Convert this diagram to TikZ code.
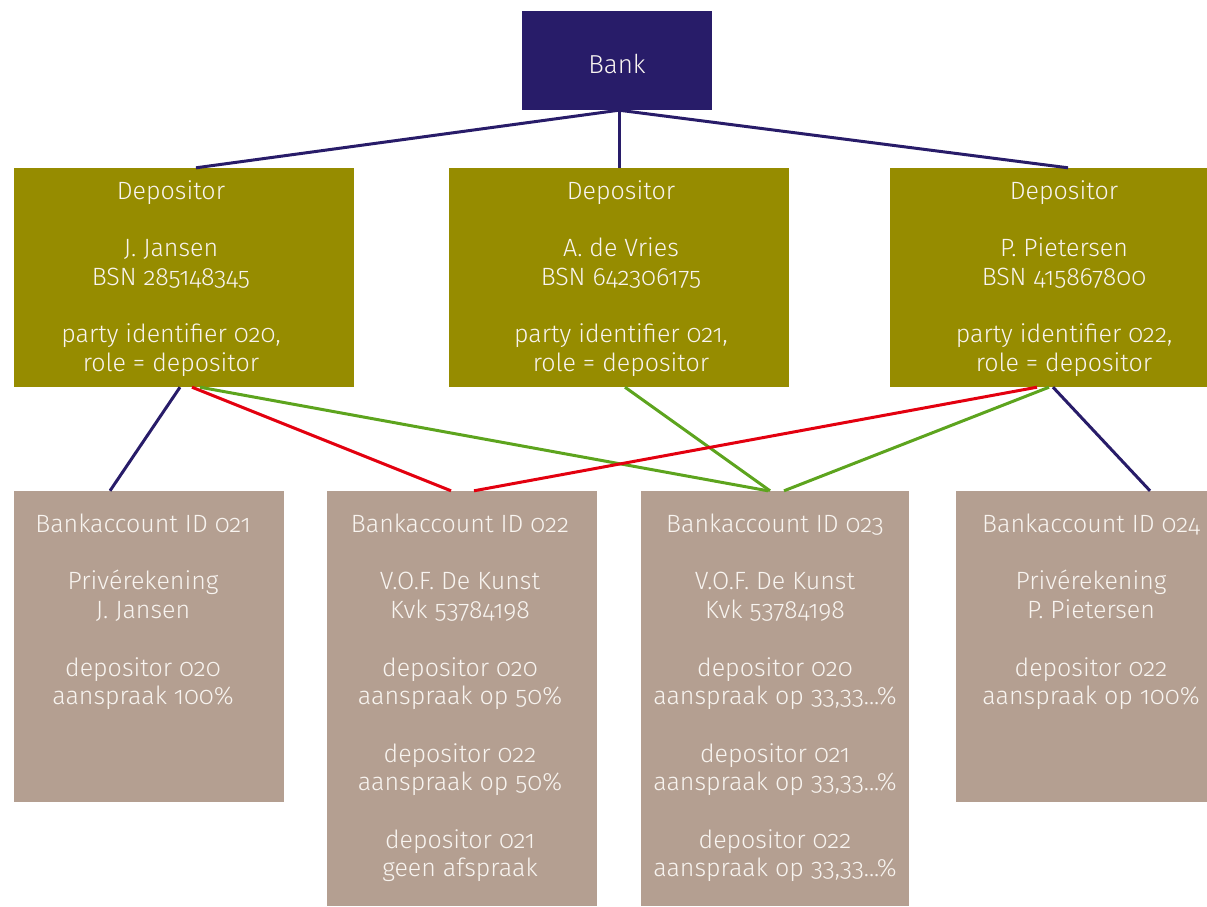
\documentclass[tikz,border=0pt]{standalone}
\usepackage{fontspec}
\setmainfont{Fira Sans}[UprightFont=* Light, Numbers=OldStyle]
\definecolor{banknavy}{HTML}{281C69}
\definecolor{depolive}{HTML}{968C00}
\definecolor{acctaupe}{HTML}{B49F91}
\definecolor{linkred}{HTML}{E3000F}
\definecolor{linkgreen}{HTML}{5DA41E}
\definecolor{txtwhite}{HTML}{F8F4F0}
\tikzset{
  boxbase/.style={rectangle, inner sep=0pt, draw=none},
  bankbox/.style={boxbase, fill=banknavy, minimum width=190pt, minimum height=99pt,
    text=txtwhite, font=\fontsize{26}{28.7}\selectfont},
  depbox/.style={boxbase, fill=depolive, minimum width=340pt, minimum height=219pt},
  accbox/.style={boxbase, fill=acctaupe, minimum width=270pt},
  boxtext/.style={inner sep=0pt, align=center, text=txtwhite,
    font=\fontsize{25}{28.7}\selectfont},
  acctext/.style={boxtext, anchor=north},
  navyline/.style={draw=banknavy, line width=3pt},
  redline/.style={draw=linkred, line width=3pt},
  greenline/.style={draw=linkgreen, line width=3pt},
}
\begin{document}
\begin{tikzpicture}[x=1pt, y=-1pt]
\useasboundingbox (0,0) rectangle (1207,907);
\clip (0,0) rectangle (1207,907);

% bank
\node[bankbox] (bank) at (617,60.5) {\raisebox{-4pt}[0.7em][0pt]{Bank}};

% depositors
\node[depbox] (d1) at (184,277.5) {};
\node[depbox] (d2) at (619,277.5) {};
\node[depbox] (d3) at (1060,277.5) {};
\node[boxtext] (dt1) at ([xshift=-13pt, yshift=-1pt]d1.center) {Depositor\\[28.7pt]J. Jansen\\BSN 285148345\\[28.7pt]party identifier 020,\\role = depositor};
\node[boxtext] (dt2) at ([xshift=2pt, yshift=-1pt]d2.center) {Depositor\\[28.7pt]A. de Vries\\BSN 642306175\\[28.7pt]party identifier 021,\\role = depositor};
\node[boxtext] (dt3) at ([xshift=4pt, yshift=-1pt]d3.center) {Depositor\\[28.7pt]P. Pietersen\\BSN 415867800\\[28.7pt]party identifier 022,\\role = depositor};

% bank accounts
\node[accbox, minimum height=311pt] (b1) at (149,646.5) {};
\node[accbox, minimum height=415pt] (b2) at (462,698.5) {};
\node[accbox, minimum height=415pt, minimum width=268pt] (b3) at (775,698.5) {};
\node[accbox, minimum height=311pt] (b4) at (1091,646.5) {};

\node[acctext] (t1) at ([xshift=-6pt, yshift=-23pt]b1.north) {Bankaccount ID 021\\[28.7pt]Privérekening\\J. Jansen\\[28.7pt]depositor 020\\aanspraak 100\%};
\node[acctext] (t2) at ([xshift=-2pt, yshift=-23pt]b2.north) {Bankaccount ID 022\\[28.7pt]V.O.F. De Kunst\\Kvk 53784198\\[28.7pt]depositor 020\\aanspraak op 50\%\\[28.7pt]depositor 022\\aanspraak op 50\%\\[28.7pt]depositor 021\\geen afspraak};
\node[acctext] (t3) at ([yshift=-23pt]b3.north) {Bankaccount ID 023\\[28.7pt]V.O.F. De Kunst\\Kvk 53784198\\[28.7pt]depositor 020\\aanspraak op 33,33...\%\\[28.7pt]depositor 021\\aanspraak op 33,33...\%\\[28.7pt]depositor 022\\aanspraak op 33,33...\%};
\node[acctext] (t4) at ([yshift=-23pt]b4.north) {Bankaccount ID 024\\[28.7pt]Privérekening\\P. Pietersen\\[28.7pt]depositor 022\\aanspraak op 100\%};

% bank to depositors
\draw[navyline] ([xshift=2pt]bank.south) -- ([xshift=12pt]d1.north);
\draw[navyline] ([xshift=2pt]bank.south) -- (d2.north);
\draw[navyline] ([xshift=2pt]bank.south) -- ([xshift=8pt]d3.north);

% depositors to accounts
\draw[navyline] ([xshift=-4pt]d1.south) -- ([xshift=-39pt]b1.north);
\draw[redline] ([xshift=8pt]d1.south) -- ([xshift=-11pt]b2.north);
\draw[greenline] ([xshift=16pt]d1.south) -- ([xshift=-7pt]b3.north);
\draw[greenline] ([xshift=6pt]d2.south) -- ([xshift=-5pt]b3.north);
\draw[redline] ([xshift=-23pt]d3.south) -- ([xshift=12pt]b2.north);
\draw[greenline] ([xshift=-11pt]d3.south) -- ([xshift=9pt]b3.north);
\draw[navyline] ([xshift=-7pt]d3.south) -- ([xshift=59pt]b4.north);
\end{tikzpicture}
\end{document}
